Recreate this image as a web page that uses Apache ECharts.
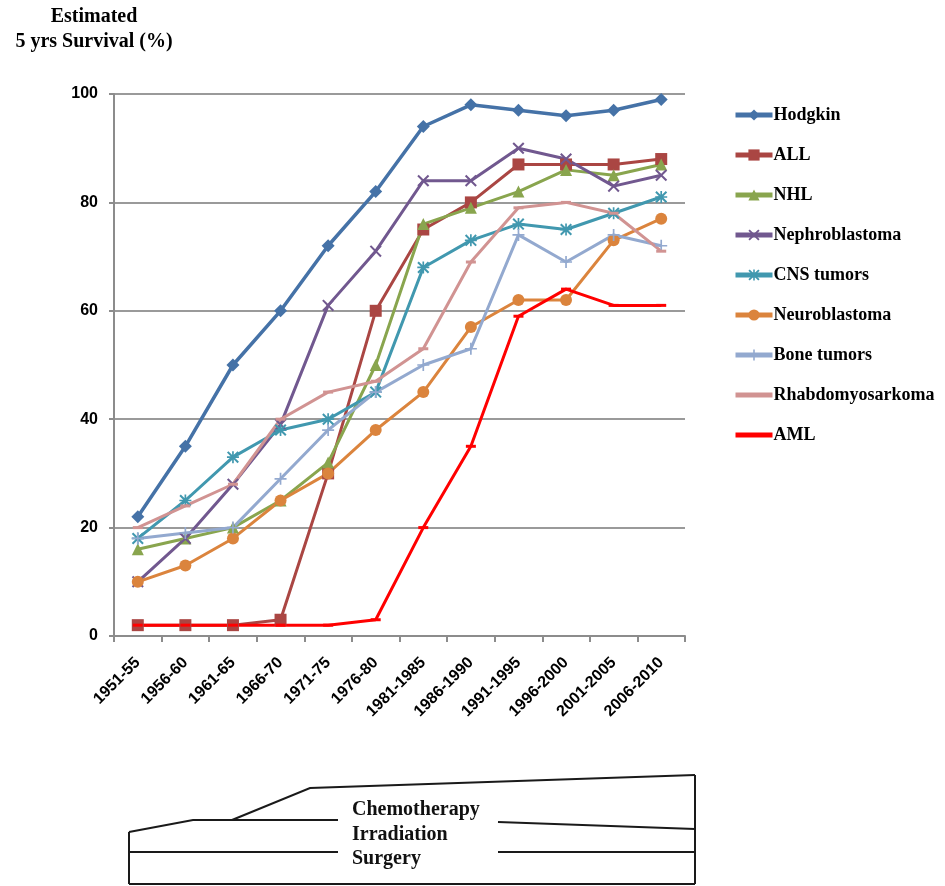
<!DOCTYPE html>
<html>
<head>
<meta charset="utf-8">
<script src="https://cdn.jsdelivr.net/npm/echarts@6/dist/echarts.min.js"></script>
<style>
html,body{margin:0;padding:0;background:#fff;}
#chart{width:945px;height:886px;}
</style>
</head>
<body>
<div id="chart"></div>
<script>
const categories = ['1951-55','1956-60','1961-65','1966-70','1971-75','1976-80','1981-1985','1986-1990','1991-1995','1996-2000','2001-2005','2006-2010'];
const yTicks = [0, 20, 40, 60, 80, 100];

const hodgkin        = [22, 35, 50, 60, 72, 82, 94, 98, 97, 96, 97, 99];
const all            = [2, 2, 2, 3, 30, 60, 75, 80, 87, 87, 87, 88];
const nhl            = [16, 18, 20, 25, 32, 50, 76, 79, 82, 86, 85, 87];
const nephroblastoma = [10, 18, 28, 39, 61, 71, 84, 84, 90, 88, 83, 85];
const cnsTumors      = [18, 25, 33, 38, 40, 45, 68, 73, 76, 75, 78, 81];
const neuroblastoma  = [10, 13, 18, 25, 30, 38, 45, 57, 62, 62, 73, 77];
const boneTumors     = [18, 19, 20, 29, 38, 45, 50, 53, 74, 69, 74, 72];
const rhabdo         = [20, 24, 28, 40, 45, 47, 53, 69, 79, 80, 78, 71];
const aml            = [2, 2, 2, 2, 2, 3, 20, 35, 59, 64, 61, 61];

const seriesNames = ['Hodgkin','ALL','NHL','Nephroblastoma','CNS tumors','Neuroblastoma','Bone tumors','Rhabdomyosarkoma','AML'];
const seriesData = [hodgkin, all, nhl, nephroblastoma, cnsTumors, neuroblastoma, boneTumors, rhabdo, aml];
const colors = ['#4572A7','#AA4643','#89A54E','#71588F','#4198AF','#DB843D','#93A9CF','#D19392','#FF0000'];

const xPath = 'path://M0,1.2 L1.2,0 L5,3.8 L8.8,0 L10,1.2 L6.2,5 L10,8.8 L8.8,10 L5,6.2 L1.2,10 L0,8.8 L3.8,5 Z';
const plusPath = 'path://M4.3,0 L5.7,0 L5.7,4.3 L10,4.3 L10,5.7 L5.7,5.7 L5.7,10 L4.3,10 L4.3,5.7 L0,5.7 L0,4.3 L4.3,4.3 Z';
const starPath = 'path://M0,1.2 L1.2,0 L5,3.8 L8.8,0 L10,1.2 L6.2,5 L10,8.8 L8.8,10 L5,6.2 L1.2,10 L0,8.8 L3.8,5 Z M4.3,0 L5.7,0 L5.7,4.3 L10,4.3 L10,5.7 L5.7,5.7 L5.7,10 L4.3,10 L4.3,5.7 L0,5.7 L0,4.3 L4.3,4.3 Z';
const dashPath = 'path://M0,0 L10,0 L10,3 L0,3 Z';
const symbols = ['diamond','rect','triangle',xPath,starPath,'circle',plusPath,dashPath,dashPath];
const symbolSizes = [13, 12, 12, 12, 12, 12, 12, [10,3], [10,3]];
const lineWidths = [3.5, 3, 3, 3, 3, 3, 3, 3, 3];

const serif = '"Liberation Serif", "Times New Roman", serif';
const sans = '"Liberation Sans", Arial, sans-serif';

const chart = echarts.init(document.getElementById('chart'), null, {renderer: 'canvas'});

const series = seriesNames.map((name, i) => ({
  name: name,
  type: 'line',
  data: seriesData[i],
  symbol: symbols[i],
  symbolSize: symbolSizes[i],
  showAllSymbol: true,
  lineStyle: {width: lineWidths[i], color: colors[i]},
  itemStyle: {color: colors[i]},
  emphasis: {disabled: true},
  animation: false
}));

const legendData = seriesNames.map((name, i) =>
  (i >= 7) ? {name: name, itemStyle: {opacity: 0}} : {name: name});

function seg(points) {
  return {
    type: 'polyline',
    shape: {points: points},
    style: {stroke: '#1a1a1a', lineWidth: 2, fill: null}
  };
}

chart.setOption({
  backgroundColor: '#ffffff',
  animation: false,
  color: colors,
  title: {
    text: 'Estimated\n5 yrs Survival (%)',
    left: 89,
    top: -1,
    textAlign: 'center',
    textStyle: {fontFamily: serif, fontWeight: 'bold', fontSize: 20, lineHeight: 25, color: '#000', align: 'center'}
  },
  grid: {left: 114, right: 260, top: 94, bottom: 250, containLabel: false},
  legend: {
    orient: 'vertical',
    left: 733,
    top: 106,
    padding: 0,
    itemWidth: 37,
    itemHeight: 14,
    itemGap: 22,
    lineStyle: {width: 5},
    textStyle: {fontFamily: serif, fontWeight: 'bold', fontSize: 18, color: '#000', padding: [0,0,0,-4]},
    data: legendData
  },
  xAxis: {
    type: 'category',
    data: categories,
    boundaryGap: true,
    axisLine: {show: true, lineStyle: {color: '#8c8c8c', width: 2}},
    axisTick: {show: true, length: 6, lineStyle: {color: '#8c8c8c', width: 2}},
    axisLabel: {rotate: 45, margin: 24, fontFamily: sans, fontWeight: 'bold', fontSize: 16, color: '#000', interval: 0},
    splitLine: {show: false}
  },
  yAxis: {
    type: 'value',
    min: 0,
    max: 100,
    interval: 20,
    axisLine: {show: true, lineStyle: {color: '#8c8c8c', width: 2}},
    axisTick: {show: true, length: 5, lineStyle: {color: '#8c8c8c', width: 2}},
    axisLabel: {margin: 16, fontFamily: sans, fontWeight: 'bold', fontSize: 16, color: '#000',
      formatter: v => yTicks.indexOf(v) >= 0 ? String(v) : ''},
    splitLine: {show: true, lineStyle: {color: '#9a9a9a', width: 2}}
  },
  series: series,
  graphic: [
    seg([[129,884],[695,884]]),
    seg([[129,832],[129,884]]),
    seg([[695,775],[695,884]]),
    seg([[129,852],[338,852]]),
    seg([[498,852],[695,852]]),
    seg([[129,832],[193,820],[338,820]]),
    seg([[498,822],[695,829]]),
    seg([[232,820],[310,788],[695,775]]),
    {type: 'text', left: 352, top: 800, style: {text: 'Chemotherapy', font: 'bold 20px ' + serif, fill: '#111'}},
    {type: 'text', left: 352, top: 825, style: {text: 'Irradiation', font: 'bold 20px ' + serif, fill: '#111'}},
    {type: 'text', left: 352, top: 849, style: {text: 'Surgery', font: 'bold 20px ' + serif, fill: '#111'}}
  ]
});
</script>
</body>
</html>
